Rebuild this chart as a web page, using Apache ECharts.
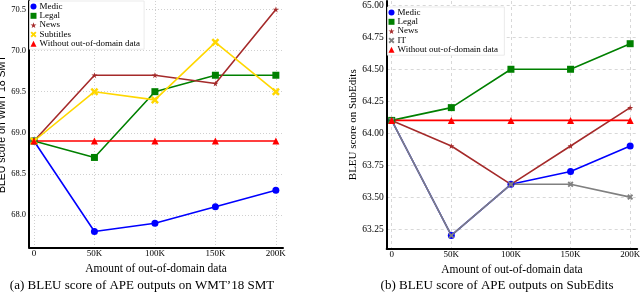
<!DOCTYPE html>
<html><head><meta charset="utf-8">
<script src="https://cdn.jsdelivr.net/npm/echarts@6/dist/echarts.min.js"></script>
<style>html,body{margin:0;padding:0;background:#fff}#c{width:640px;height:292px}</style>
</head><body><div id="c"></div>
<script>
const xValues = [0, 50000, 100000, 150000, 200000];
const xLabels = ['0', '50K', '100K', '150K', '200K'];
// (a) WMT'18 SMT
const aMedic = [68.9, 67.8, 67.9, 68.1, 68.3];
const aLegal = [68.9, 68.7, 69.5, 69.7, 69.7];
const aNews = [68.9, 69.7, 69.7, 69.6, 70.5];
const aSubtitles = [68.9, 69.5, 69.4, 70.1, 69.5];
const aWithout = [68.9, 68.9, 68.9, 68.9, 68.9];
const aTicks = [68.0, 68.5, 69.0, 69.5, 70.0, 70.5];
// (b) SubEdits
const bMedic = [64.1, 63.2, 63.6, 63.7, 63.9];
const bLegal = [64.1, 64.2, 64.5, 64.5, 64.7];
const bNews = [64.1, 63.9, 63.6, 63.9, 64.2];
const bIT = [64.1, 63.2, 63.6, 63.6, 63.5];
const bWithout = [64.1, 64.1, 64.1, 64.1, 64.1];
const bTicks = [63.25, 63.50, 63.75, 64.00, 64.25, 64.50, 64.75, 65.00];

const FONT = '"Liberation Serif", "Times New Roman", serif';
const SANS = '"Liberation Sans", Arial, sans-serif';
const STAR = 'path://M50,0 L61,35 L98,35 L68,57 L79,91 L50,70 L21,91 L32,57 L2,35 L39,35 Z';
const XMARK = 'path://M0,22 L22,0 L50,28 L78,0 L100,22 L72,50 L100,78 L78,100 L50,72 L22,100 L0,78 L28,50 Z';

const pts = arr => xValues.map((x, i) => [x, arr[i]]);

function mkSeries(name, arr, color, symbol, size, idx) {
  return {
    type: 'line', name, data: pts(arr), xAxisIndex: idx, yAxisIndex: idx,
    symbol, symbolSize: size, showSymbol: true,
    lineStyle: { color, width: 1.6 }, itemStyle: { color },
    animation: false, z: 3
  };
}

const chart = echarts.init(document.getElementById('c'), null, { renderer: 'canvas' });

function xAx(idx, min, max, gridStyle) {
  return {
    type: 'value', gridIndex: idx, min, max,
    name: 'Amount of out-of-domain data', nameLocation: 'middle', nameGap: 8,
    nameTextStyle: { fontFamily: FONT, fontSize: 11.5, color: '#000', verticalAlign: 'top' },
    axisLine: { show: true, onZero: false, lineStyle: { color: '#000', width: 2 } },
    axisTick: { show: false, customValues: xValues },
    axisLabel: { customValues: xValues, fontFamily: FONT, fontSize: 9, color: '#000', margin: 2,
      formatter: v => xLabels[xValues.indexOf(v)] ?? '' },
    splitLine: { show: true, lineStyle: gridStyle }
  };
}
function yAx(idx, min, max, ticks, dec, name, nameGap, fs, nameFont, gridStyle) {
  return {
    type: 'value', gridIndex: idx, min, max,
    name, nameLocation: 'middle', nameGap, nameRotate: 90,
    nameTextStyle: { fontFamily: nameFont, fontSize: nameFont === SANS ? 10.5 : 11, color: '#000' },
    axisLine: { show: true, onZero: false, lineStyle: { color: '#000', width: 2 } },
    axisTick: { show: false, customValues: ticks },
    axisLabel: { customValues: ticks, fontFamily: FONT, fontSize: fs, color: '#000', margin: 3,
      formatter: v => v.toFixed(dec) },
    splitLine: { show: true, lineStyle: gridStyle }
  };
}

const gridA = { color: '#d0d0d0', width: 1, type: [1, 2] };
const gridB = { color: '#d8d8d8', width: 1, type: [3, 3] };

const legendCommon = {
  orient: 'vertical', itemWidth: 6, itemHeight: 6, itemGap: 0.3, padding: [1, 4, 1, 1],
  backgroundColor: '#fff', borderColor: '#e6e6e6', borderWidth: 0.8,
  textStyle: { fontFamily: FONT, fontSize: 9, color: '#000', padding: [0, 0, 0, -2], lineHeight: 8 }
};

const option = {
  animation: false,
  backgroundColor: '#fff',
  grid: [
    { left: 29, top: 1, width: 254, bottom: 44.7, containLabel: false, outerBoundsMode: 'none' },
    { left: 386.7, top: 1, width: 250.5, bottom: 43.5, containLabel: false, outerBoundsMode: 'none' }
  ],
  xAxis: [xAx(0, -4100, 205900, gridA), xAx(1, -4200, 205900, gridB)],
  yAxis: [
    yAx(0, 67.607, 70.603, aTicks, 1, 'BLEU score on WMT\u201918 SMT', 19.5, 8.5, SANS, gridA),
    yAx(1, 63.098, 65.034, bTicks, 2, 'BLEU score on SubEdits', 21.5, 9.5, FONT, gridB)
  ],
  legend: [
    Object.assign({}, legendCommon, { left: 29.5, top: 1,
      data: [
        { name: 'Medic', icon: 'circle' }, { name: 'Legal', icon: 'rect' },
        { name: 'News', icon: STAR }, { name: 'Subtitles', icon: XMARK },
        { name: 'Without out-of-domain data', icon: 'triangle' }
      ] }),
    Object.assign({}, legendCommon, { left: 387.5, top: 7,
      data: [
        { name: 'Medic ', icon: 'circle' }, { name: 'Legal ', icon: 'rect' },
        { name: 'News ', icon: STAR }, { name: 'IT', icon: XMARK },
        { name: 'Without out-of-domain data ', icon: 'triangle' }
      ] })
  ],
  title: [
    { text: '(a) BLEU score of APE outputs on WMT\u201918 SMT', left: 142, top: 279, textAlign: 'center', padding: 0,
      textStyle: { fontFamily: FONT, fontSize: 13, fontWeight: 'normal', color: '#000' } },
    { text: '(b) BLEU score of APE outputs on SubEdits', left: 497, top: 279, textAlign: 'center', padding: 0,
      textStyle: { fontFamily: FONT, fontSize: 13, fontWeight: 'normal', color: '#000' } }
  ],
  series: [
    mkSeries('Medic', aMedic, '#0000ff', 'circle', 7, 0),
    mkSeries('Legal', aLegal, '#008000', 'rect', 7, 0),
    mkSeries('News', aNews, '#a52a2a', STAR, 6, 0),
    mkSeries('Subtitles', aSubtitles, '#ffd700', XMARK, 8, 0),
    mkSeries('Without out-of-domain data', aWithout, '#ff0000', 'triangle', 7, 0),
    mkSeries('Medic ', bMedic, '#0000ff', 'circle', 7, 1),
    mkSeries('Legal ', bLegal, '#008000', 'rect', 7, 1),
    mkSeries('News ', bNews, '#a52a2a', STAR, 6, 1),
    mkSeries('IT', bIT, '#808080', XMARK, 6, 1),
    mkSeries('Without out-of-domain data ', bWithout, '#ff0000', 'triangle', 7, 1)
  ]
};
chart.setOption(option);
</script></body></html>
